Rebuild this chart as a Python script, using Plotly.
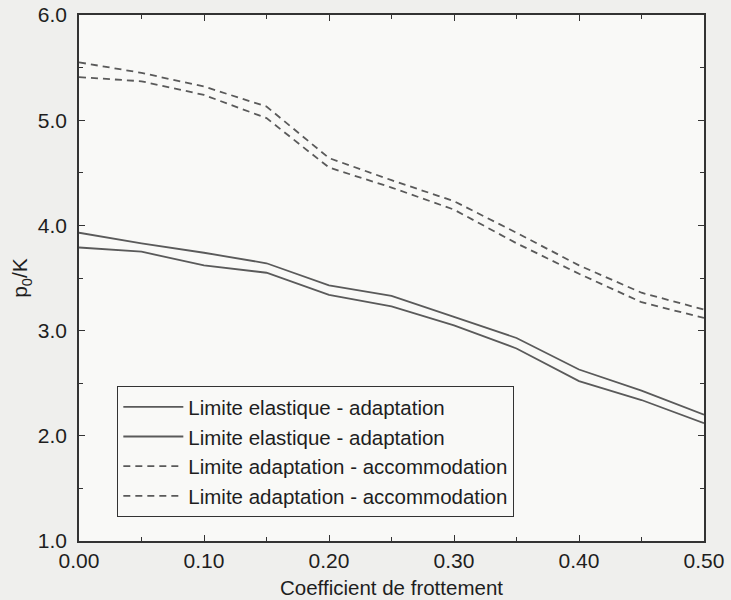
import plotly.graph_objects as go

mu = [0.00, 0.05, 0.10, 0.15, 0.20, 0.25, 0.30, 0.35, 0.40, 0.45, 0.50]
elast_upper = [3.93, 3.83, 3.74, 3.64, 3.43, 3.33, 3.13, 2.93, 2.63, 2.43, 2.20]
elast_lower = [3.79, 3.75, 3.62, 3.55, 3.34, 3.23, 3.05, 2.83, 2.52, 2.34, 2.12]
accom_upper = [5.55, 5.45, 5.32, 5.13, 4.64, 4.43, 4.23, 3.93, 3.62, 3.36, 3.20]
accom_lower = [5.41, 5.37, 5.24, 5.02, 4.55, 4.36, 4.15, 3.83, 3.54, 3.27, 3.12]
names = ["Limite elastique - adaptation", "Limite elastique - adaptation",
         "Limite adaptation - accommodation", "Limite adaptation - accommodation"]
x_ticks = [0.0, 0.1, 0.2, 0.3, 0.4, 0.5]
x_tick_text = ["0.00", "0.10", "0.20", "0.30", "0.40", "0.50"]
y_ticks = [1, 2, 3, 4, 5, 6]
y_tick_text = ["1.0", "2.0", "3.0", "4.0", "5.0", "6.0"]

FONT = "Liberation Sans, Arial, Helvetica, sans-serif"
LINE = "#5a5a5a"
TXT = "#1e1e1e"

fig = go.Figure()
series = [elast_upper, elast_lower, accom_upper, accom_lower]
dashes = ["solid", "solid", "7px,5px", "7px,5px"]
for ys, nm, d in zip(series, names, dashes):
    fig.add_trace(go.Scatter(x=mu, y=ys, mode="lines", name=nm,
                             line=dict(color=LINE, width=1.8, dash=d)))

axis_common = dict(
    showgrid=False, zeroline=False, showline=True, linecolor="#333",
    linewidth=1.5, mirror="allticks", ticks="inside", ticklen=6,
    tickcolor="#333", tickwidth=1.2, automargin=False,
    tickfont=dict(family=FONT, size=21, color=TXT),
)
fig.update_xaxes(range=[0, 0.5], tickvals=x_ticks, ticktext=x_tick_text,
                 minor=dict(dtick=0.05, ticks="inside", ticklen=4, tickcolor="#333", tickwidth=1),
                 title=dict(text="Coefficient de frottement", font=dict(family=FONT, size=20.5, color=TXT),
                            standoff=10),
                 **axis_common)
fig.update_yaxes(range=[1, 6], tickvals=y_ticks, ticktext=y_tick_text,
                 minor=dict(dtick=0.5, ticks="inside", ticklen=4, tickcolor="#333", tickwidth=1),
                 title=dict(text="p<sub>0</sub>/K", font=dict(family=FONT, size=21, color=TXT),
                            standoff=4),
                 ticklabelstandoff=6,
                 **axis_common)

fig.update_layout(
    width=731, height=600,
    margin=dict(l=79, r=27, t=15, b=59),
    paper_bgcolor="#efefed", plot_bgcolor="#f9f9f7",
    showlegend=True,
    legend=dict(x=0.061, y=0.295, xanchor="left", yanchor="top",
                bgcolor="#f9f9f7", bordercolor="#333", borderwidth=1.2,
                font=dict(family=FONT, size=20.5, color=TXT),
                tracegroupgap=0, itemwidth=60),
)
fig.write_html("out.html")
